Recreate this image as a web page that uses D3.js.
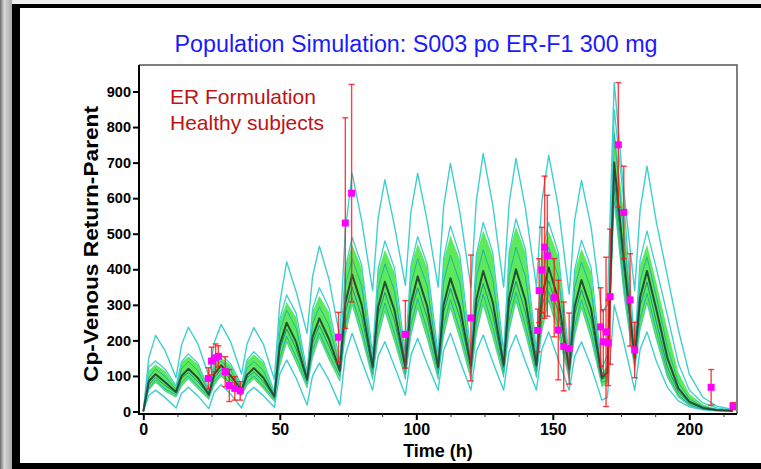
<!DOCTYPE html>
<html>
<head>
<meta charset="utf-8">
<script src="https://cdn.jsdelivr.net/npm/d3@7"></script>
<style>
  body { margin: 0; background: #fff; }
  svg { display: block; }
</style>
</head>
<body>
<div id="chart"></div>
<script>
/* global d3 */

// ----------------------------------------
// Data
// ----------------------------------------

// time grid: for each 12 h dose -> dose, +2 h, +4.5 h (peak), +8 h, then the washout tail
let times = [
  0, 2, 4.5, 8, 12, 14, 16.5, 20, 24, 26, 28.5, 32, 36, 38, 40.5, 44,
  48, 50, 52.5, 56, 60, 62, 64.5, 68, 72, 74, 76.5, 80, 84, 86, 88.5, 92,
  96, 98, 100.5, 104, 108, 110, 112.5, 116, 120, 122, 124.5, 128, 132, 134, 136.5, 140,
  144, 146, 148.5, 152, 156, 158, 160.5, 164, 168, 170, 172.5, 176, 180, 182, 184.5, 188,
  192, 196, 200, 205, 210, 216]

let p95 = [
  0, 150, 214, 171, 95, 187, 237, 190, 100, 194, 245, 196, 105, 190, 236, 189,
  90, 305, 421, 337, 220, 379, 465, 372, 210, 509, 670, 536, 340, 543, 652, 522,
  355, 560, 670, 536, 350, 576, 698, 558, 350, 594, 726, 581, 350, 585, 712, 570,
  350, 591, 721, 577, 330, 538, 650, 520, 280, 300, 925, 620, 340, 568, 690, 530,
  380, 230, 105, 40, 15, 6]
let p90 = [
  0, 125, 142, 119, 72, 140, 162, 136, 62, 136, 160, 134, 75, 145, 168, 141,
  55, 260, 328, 276, 110, 289, 348, 292, 140, 403, 490, 412, 160, 400, 480, 403,
  160, 409, 492, 413, 160, 432, 522, 438, 165, 440, 532, 447, 165, 448, 542, 455,
  170, 442, 532, 447, 150, 399, 482, 405, 120, 160, 850, 590, 185, 427, 508, 400,
  270, 135, 60, 24, 10, 4]
let bandHi = [
  0, 115, 132, 114, 70, 138, 155, 133, 60, 134, 152, 131, 72, 142, 160, 138,
  50, 256, 308, 265, 105, 281, 325, 280, 135, 403, 470, 404, 150, 394, 455, 391,
  150, 408, 472, 406, 150, 426, 495, 426, 155, 439, 510, 439, 155, 447, 520, 447,
  160, 438, 508, 437, 140, 394, 458, 394, 110, 130, 800, 560, 175, 411, 470, 360,
  230, 110, 50, 20, 8, 3]
let median = [
  0, 85, 105, 82, 55, 100, 120, 94, 48, 105, 130, 101, 60, 103, 122, 95,
  42, 188, 250, 195, 90, 210, 262, 204, 115, 304, 385, 300, 125, 293, 365, 285,
  125, 303, 380, 296, 125, 300, 375, 293, 128, 315, 395, 308, 130, 319, 400, 312,
  130, 323, 405, 316, 120, 295, 370, 289, 95, 110, 700, 430, 150, 321, 395, 285,
  150, 65, 28, 10, 4, 2]
let bandLo = [
  0, 60, 82, 57, 40, 71, 92, 64, 34, 74, 100, 70, 44, 73, 92, 64,
  28, 128, 195, 137, 66, 151, 208, 146, 85, 214, 300, 210, 90, 205, 282, 197,
  90, 211, 292, 204, 90, 211, 292, 204, 90, 216, 300, 210, 95, 224, 310, 217,
  95, 225, 312, 218, 90, 211, 292, 204, 70, 80, 590, 330, 115, 229, 305, 200,
  95, 40, 16, 6, 2, 1]
let p5 = [
  0, 45, 60, 39, 10, 51, 68, 44, 8, 55, 75, 49, 10, 51, 68, 44,
  12, 105, 145, 94, 18, 101, 136, 88, 18, 159, 220, 143, 60, 155, 196, 127,
  46, 158, 206, 134, 60, 172, 220, 143, 60, 169, 215, 140, 60, 169, 215, 140,
  60, 175, 224, 146, 60, 155, 196, 127, 32, 40, 300, 195, 60, 175, 224, 140,
  68, 30, 13, 5, 2, 1]

// individual subject curves inside the band
let subjA = [
  0, 95, 120, 98, 62, 121, 140, 115, 55, 120, 142, 116, 66, 122, 140, 115,
  46, 225, 285, 234, 98, 246, 295, 242, 125, 354, 430, 353, 138, 346, 415, 340,
  138, 357, 430, 353, 138, 365, 440, 361, 140, 376, 455, 373, 142, 382, 462, 379,
  145, 383, 462, 379, 130, 348, 420, 344, 102, 120, 780, 500, 162, 367, 435, 320,
  180, 82, 36, 14, 6, 2]
let subjB = [
  0, 75, 96, 73, 52, 93, 110, 84, 45, 96, 118, 90, 56, 95, 111, 84,
  40, 174, 232, 176, 86, 192, 242, 184, 110, 278, 350, 266, 118, 270, 335, 255,
  118, 279, 348, 264, 118, 278, 346, 263, 120, 288, 360, 274, 122, 293, 366, 278,
  122, 294, 368, 280, 112, 273, 342, 260, 90, 100, 660, 400, 140, 297, 364, 250,
  125, 55, 24, 9, 4, 1]
let subjC = [
  0, 65, 88, 63, 47, 81, 100, 72, 40, 84, 108, 78, 50, 83, 100, 72,
  34, 150, 212, 153, 78, 172, 222, 160, 100, 244, 322, 232, 105, 235, 305, 220,
  105, 243, 318, 229, 106, 242, 315, 227, 108, 252, 330, 238, 110, 257, 336, 242,
  110, 258, 338, 243, 102, 240, 314, 226, 82, 90, 630, 360, 130, 261, 332, 225,
  108, 46, 19, 7, 3, 1]

// observed data: mean +/- SD
let obsTime = [23.8, 25, 26.5, 27.5, 30, 31.5, 33.5, 35.5, 71.5, 74, 76.3, 96, 120,
  144.5, 145, 146, 147, 148, 150.5, 152, 154, 156,
  167.5, 168.5, 169.5, 170.3, 171, 174, 176, 178.3, 180, 208, 216]
let obsMean = [93, 142, 151, 155, 112, 73, 65, 58, 209, 530, 614, 217, 263,
  228, 340, 398, 462, 438, 320, 229, 183, 177,
  238, 196, 224, 193, 323, 750, 560, 314, 173, 68, 15]
let obsSD = [30, 39, 39, 30, 42, 45, 33, 26, 70, 296, 306, 95, 177,
  60, 90, 120, 200, 170, 110, 140, 125, 100,
  110, 90, 210, 120, 190, 175, 130, 130, 78, 50, 10]

let yTicks = [0, 100, 200, 300, 400, 500, 600, 700, 800, 900]
let xTicks = [0, 50, 100, 150, 200]
let xMinorTicks = [12.5, 25, 37.5, 62.5, 75, 87.5, 112.5, 125, 137.5, 162.5, 175, 187.5, 212.5]

let titleText = 'Population Simulation: S003 po ER-F1 300 mg'
let noteLines = ['ER Formulation', 'Healthy subjects']

// ----------------------------------------
// Styles
// ----------------------------------------

let cyanC = '#3fcfcf'
let tealC = '#1fabab'
let tealDarkC = '#138a8a'
let bandC = '#5cea5c'
let medianC = '#2a4d38'
let barC = '#ff1010'
let obsC = '#ff00ff'

var width = 761
var height = 469

var svg = d3.select('#chart').append('svg')
  .attr('width', width)
  .attr('height', height)
  .attr('viewBox', '0 0 ' + width + ' ' + height)

// ----------------------------------------
// Window frame (screenshot border)
// ----------------------------------------

var defs = svg.append('defs')
var grad = defs.append('linearGradient').attr('id', 'edge')
grad.append('stop').attr('offset', '0%').attr('stop-color', '#6a6a6a')
grad.append('stop').attr('offset', '35%').attr('stop-color', '#d8d8d8')
grad.append('stop').attr('offset', '100%').attr('stop-color', '#a8a8a8')

svg.append('rect').attr('width', width).attr('height', height).attr('fill', '#fff')
svg.append('rect').attr('x', 0).attr('y', 0).attr('width', width).attr('height', 4).attr('fill', '#eeeeee')
svg.append('rect').attr('x', 0).attr('y', 0).attr('width', 12).attr('height', height).attr('fill', 'url(#edge)')
svg.append('rect').attr('x', 12).attr('y', 4).attr('width', width - 12).attr('height', 4).attr('fill', '#000')
svg.append('rect').attr('x', 12).attr('y', 4).attr('width', 8).attr('height', height - 4).attr('fill', '#000')
svg.append('rect').attr('x', 12).attr('y', 463).attr('width', width - 12).attr('height', 6).attr('fill', '#000')

// ----------------------------------------
// Scales
// ----------------------------------------

var plot = { left: 139, right: 737, top: 65, bottom: 414 }

var x = d3.scaleLinear().domain([0, 200]).range([143.3, 689.3])
var y = d3.scaleLinear().domain([0, 900]).range([411.5, 91.5])

defs.append('clipPath').attr('id', 'plotClip')
  .append('rect')
  .attr('x', plot.left + 1)
  .attr('y', plot.top + 1)
  .attr('width', plot.right - plot.left - 2)
  .attr('height', plot.bottom - plot.top - 2)

var body = svg.append('g').attr('clip-path', 'url(#plotClip)')

function series (vals) {
  return times.map((t, i) => ({ t: t, v: vals[i] }))
}

var line = d3.line()
  .x(d => x(d.t))
  .y(d => y(d.v))

var band = d3.area()
  .x(d => x(d.t))
  .y0(d => y(d.lo))
  .y1(d => y(d.hi))

// ----------------------------------------
// Simulated curves
// ----------------------------------------

body.append('path')
  .datum(times.map((t, i) => ({ t: t, lo: bandLo[i], hi: bandHi[i] })))
  .attr('d', band)
  .attr('fill', bandC)

var curves = [
  { vals: p95, c: cyanC, w: 1.4, o: 1 },
  { vals: p5, c: cyanC, w: 1.4, o: 1 },
  { vals: subjA, c: tealC, w: 1, o: 0.9 },
  { vals: subjB, c: tealDarkC, w: 1, o: 0.9 },
  { vals: subjC, c: tealC, w: 1, o: 0.9 },
  { vals: bandLo, c: tealC, w: 0.8, o: 0.7 },
  { vals: p90, c: cyanC, w: 1.3, o: 1 },
  { vals: median, c: medianC, w: 2, o: 1 }
]

body.selectAll('path.curve')
  .data(curves)
  .enter().append('path')
    .attr('class', 'curve')
    .attr('d', d => line(series(d.vals)))
    .attr('fill', 'none')
    .attr('stroke', d => d.c)
    .attr('stroke-width', d => d.w)
    .attr('stroke-opacity', d => d.o)
    .attr('stroke-linejoin', 'round')

// ----------------------------------------
// Observations
// ----------------------------------------

var obs = obsTime.map((t, i) => ({ t: t, v: obsMean[i], sd: obsSD[i] }))

var bars = body.append('g').attr('class', 'bars')
  .selectAll('g')
  .data(obs)
  .enter().append('g')
    .attr('stroke', barC)
    .attr('stroke-width', 1.4)
    .attr('stroke-opacity', 0.8)

bars.append('line')
  .attr('x1', d => x(d.t)).attr('x2', d => x(d.t))
  .attr('y1', d => y(d.v - d.sd)).attr('y2', d => y(d.v + d.sd))
bars.append('line')
  .attr('x1', d => x(d.t) - 3).attr('x2', d => x(d.t) + 3)
  .attr('y1', d => y(d.v + d.sd)).attr('y2', d => y(d.v + d.sd))
bars.append('line')
  .attr('x1', d => x(d.t) - 3).attr('x2', d => x(d.t) + 3)
  .attr('y1', d => y(d.v - d.sd)).attr('y2', d => y(d.v - d.sd))

body.append('g')
  .selectAll('rect')
  .data(obs)
  .enter().append('rect')
    .attr('x', d => x(d.t) - 3.5)
    .attr('y', d => y(d.v) - 3.5)
    .attr('width', 7)
    .attr('height', 7)
    .attr('fill', obsC)

// ----------------------------------------
// Frame and axes
// ----------------------------------------

svg.append('path')
  .attr('d', 'M' + plot.left + ',' + plot.top + 'H' + plot.right + 'V' + plot.bottom)
  .attr('fill', 'none')
  .attr('stroke', '#555')
  .attr('stroke-width', 1.5)

svg.append('path')
  .attr('d', 'M' + plot.left + ',' + plot.top + 'V' + plot.bottom + 'H' + plot.right)
  .attr('fill', 'none')
  .attr('stroke', '#000')
  .attr('stroke-width', 2)

var yAxis = svg.append('g')
  .attr('transform', 'translate(' + plot.left + ',0)')
  .call(d3.axisLeft(y).tickValues(yTicks).tickSize(6).tickPadding(2))
yAxis.select('.domain').remove()
yAxis.selectAll('line').attr('stroke', '#000').attr('stroke-width', 2)
yAxis.selectAll('text')
  .style('font-family', '"Liberation Sans", Arial, sans-serif')
  .style('font-weight', 'bold')
  .style('font-size', '14.5px')
  .attr('fill', '#000')

var xAxis = svg.append('g')
  .attr('transform', 'translate(0,' + plot.bottom + ')')
  .call(d3.axisBottom(x).tickValues(xTicks).tickSize(6).tickPadding(4))
xAxis.select('.domain').remove()
xAxis.selectAll('line').attr('stroke', '#000').attr('stroke-width', 2)
xAxis.selectAll('text')
  .style('font-family', '"Liberation Sans", Arial, sans-serif')
  .style('font-weight', 'bold')
  .style('font-size', '16px')
  .attr('fill', '#000')

var xMinor = svg.append('g')
  .attr('transform', 'translate(0,' + plot.bottom + ')')
  .call(d3.axisBottom(x).tickValues(xMinorTicks).tickSize(3).tickFormat(''))
xMinor.select('.domain').remove()
xMinor.selectAll('line').attr('stroke', '#333').attr('stroke-width', 1)

// ----------------------------------------
// Texts
// ----------------------------------------

svg.append('text')
  .attr('x', 416)
  .attr('y', 52)
  .attr('text-anchor', 'middle')
  .style('font-family', '"Liberation Sans", Arial, sans-serif')
  .style('font-size', '23.3px')
  .attr('fill', '#1a1aff')
  .text(titleText)

svg.append('g').selectAll('text')
  .data(noteLines)
  .enter().append('text')
    .attr('x', 170)
    .attr('y', (d, i) => 104 + i * 25.5)
    .style('font-family', '"Liberation Sans", Arial, sans-serif')
    .style('font-size', '21px')
    .attr('fill', '#c01212')
    .text(d => d)

svg.append('text')
  .attr('transform', 'translate(98,244) rotate(-90)')
  .attr('text-anchor', 'middle')
  .attr('textLength', 276)
  .attr('lengthAdjust', 'spacingAndGlyphs')
  .style('font-family', '"Liberation Sans", Arial, sans-serif')
  .style('font-weight', 'bold')
  .style('font-size', '20px')
  .attr('fill', '#000')
  .text('Cp-Venous Return-Parent')

svg.append('text')
  .attr('x', 438)
  .attr('y', 457)
  .attr('text-anchor', 'middle')
  .style('font-family', '"Liberation Sans", Arial, sans-serif')
  .style('font-weight', 'bold')
  .style('font-size', '18px')
  .attr('fill', '#000')
  .text('Time (h)')
</script>
</body>
</html>
